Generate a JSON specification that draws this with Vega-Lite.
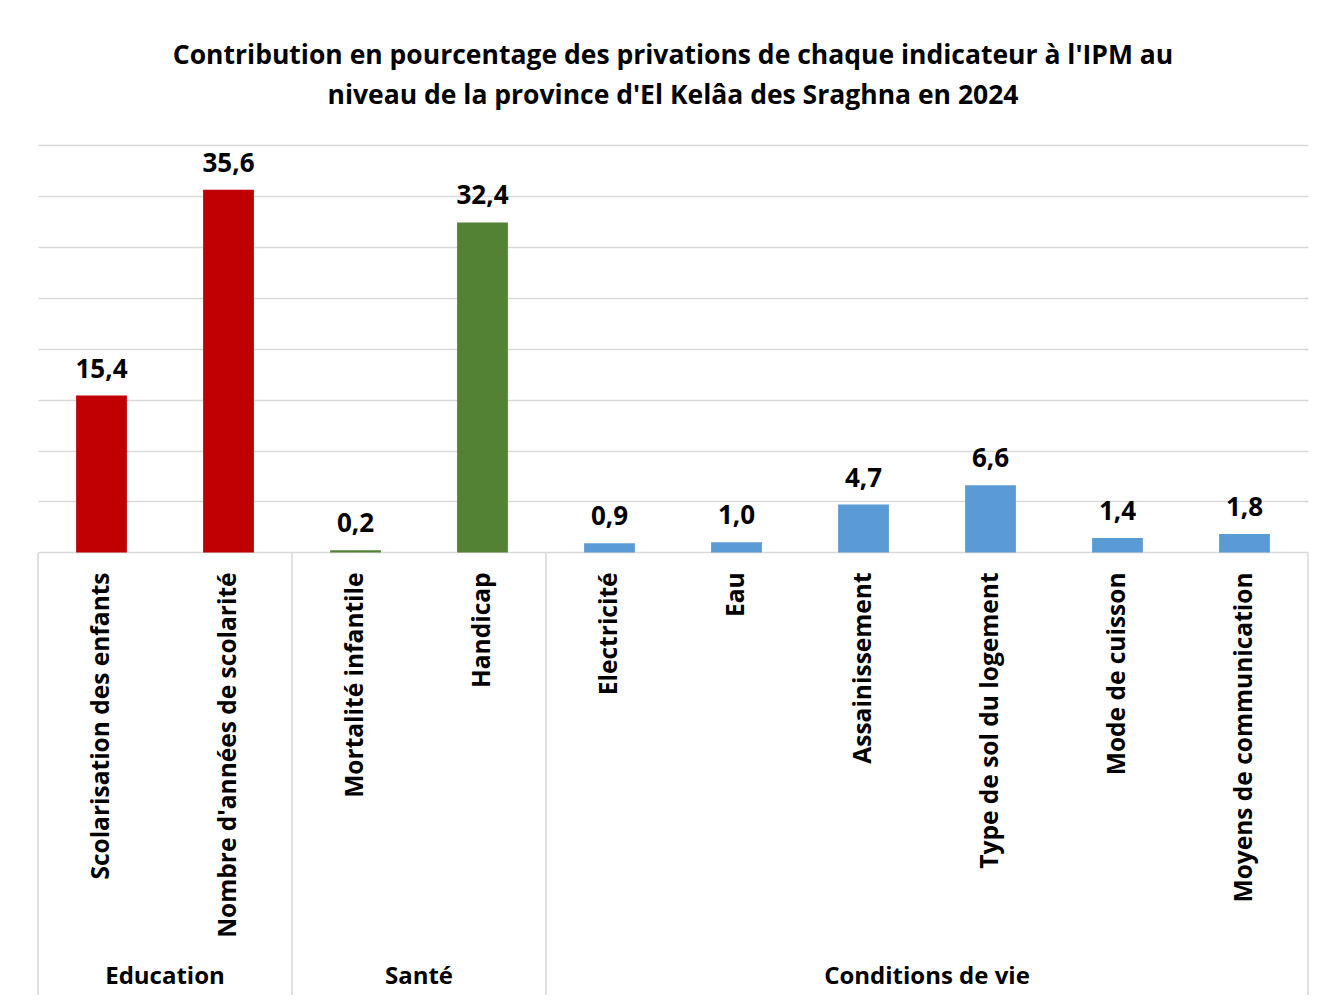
{
  "$schema": "https://vega.github.io/schema/vega-lite/v6.json",
  "width": 1270,
  "height": 850,
  "autosize": {"type": "none"},
  "padding": {"left": 38, "top": 145, "right": 18, "bottom": 5},
  "background": "white",
  "config": {
    "view": {"stroke": null},
    "font": "Open Sans",
    "locale": {"number": {"decimal": ",", "thousands": " ", "grouping": [3], "currency": ["", " €"]}}
  },
  "title": {
    "text": ["Contribution en pourcentage des privations de chaque indicateur à l'IPM au", "niveau de la province d'El Kelâa des Sraghna en 2024"],
    "font": "Open Sans",
    "fontSize": 26.5,
    "fontWeight": "bold",
    "lineHeight": 40,
    "color": "#000000",
    "anchor": "middle",
    "offset": 36
  },
  "data": {
    "values": [
      {"ind": "Scolarisation des enfants", "groupe": "Education", "valeur": 15.4},
      {"ind": "Nombre d'années de scolarité", "groupe": "Education", "valeur": 35.6},
      {"ind": "Mortalité infantile", "groupe": "Santé", "valeur": 0.2},
      {"ind": "Handicap", "groupe": "Santé", "valeur": 32.4},
      {"ind": "Electricité", "groupe": "Conditions de vie", "valeur": 0.9},
      {"ind": "Eau", "groupe": "Conditions de vie", "valeur": 1.0},
      {"ind": "Assainissement", "groupe": "Conditions de vie", "valeur": 4.7},
      {"ind": "Type de sol du logement", "groupe": "Conditions de vie", "valeur": 6.6},
      {"ind": "Mode de cuisson", "groupe": "Conditions de vie", "valeur": 1.4},
      {"ind": "Moyens de communication", "groupe": "Conditions de vie", "valeur": 1.8}
    ]
  },
  "encoding": {
    "x": {
      "field": "ind",
      "type": "nominal",
      "sort": null,
      "scale": {"paddingInner": 0, "paddingOuter": 0},
      "axis": null
    }
  },
  "layer": [
    {
      "mark": {"type": "bar", "width": {"band": 0.4}},
      "encoding": {
        "y": {
          "field": "valeur",
          "type": "quantitative",
          "scale": {"domain": [-43.46, 40], "nice": false, "zero": false},
          "axis": {
            "values": [0, 5, 10, 15, 20, 25, 30, 35, 40],
            "grid": true,
            "gridColor": "#D9D9D9",
            "gridWidth": 1.5,
            "labels": false,
            "ticks": false,
            "domain": false,
            "title": null
          }
        },
        "y2": {"datum": 0},
        "color": {
          "field": "groupe",
          "type": "nominal",
          "scale": {"domain": ["Education", "Santé", "Conditions de vie"], "range": ["#C00000", "#548235", "#5B9BD5"]},
          "legend": null
        }
      }
    },
    {
      "mark": {"type": "text", "font": "Open Sans", "fontSize": 26, "fontWeight": "bold", "baseline": "bottom", "dy": -13, "color": "#000000"},
      "encoding": {
        "y": {"field": "valeur", "type": "quantitative"},
        "text": {"field": "valeur", "type": "quantitative", "format": ".1f"}
      }
    },
    {
      "mark": {"type": "text", "font": "Open Sans", "fontSize": 24.5, "fontWeight": "bold", "angle": 270, "align": "right", "baseline": "middle", "color": "#000000"},
      "encoding": {
        "y": {"datum": -1.97},
        "text": {"field": "ind", "type": "nominal"}
      }
    },
    {
      "transform": [{"filter": {"field": "ind", "oneOf": ["Scolarisation des enfants", "Mortalité infantile", "Electricité"]}}],
      "mark": {"type": "rule", "color": "#D9D9D9", "strokeWidth": 1.5},
      "encoding": {
        "x": {"field": "ind", "type": "nominal", "sort": null, "bandPosition": 0},
        "y": {"datum": 0},
        "y2": {"datum": -43.46}
      }
    },
    {
      "transform": [{"filter": {"field": "ind", "equal": "Moyens de communication"}}],
      "mark": {"type": "rule", "color": "#D9D9D9", "strokeWidth": 1.5},
      "encoding": {
        "x": {"field": "ind", "type": "nominal", "sort": null, "bandPosition": 1},
        "y": {"datum": 0},
        "y2": {"datum": -43.46}
      }
    },
    {
      "transform": [{"filter": {"field": "ind", "oneOf": ["Nombre d'années de scolarité", "Handicap", "Type de sol du logement"]}}],
      "mark": {"type": "text", "font": "Open Sans", "fontSize": 24, "fontWeight": "bold", "baseline": "middle", "align": "center", "color": "#000000"},
      "encoding": {
        "x": {"field": "ind", "type": "nominal", "sort": null, "bandPosition": 0},
        "y": {"datum": -41.7},
        "text": {"field": "groupe", "type": "nominal"}
      }
    }
  ]
}
